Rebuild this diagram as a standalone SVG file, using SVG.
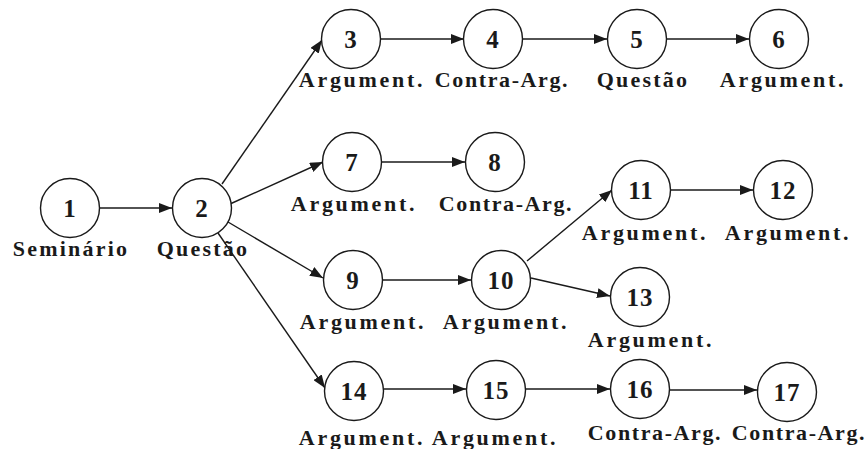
<svg xmlns="http://www.w3.org/2000/svg" width="868" height="449" viewBox="0 0 868 449">
<style>
.n circle{fill:#fff;stroke:#1a1a1a;stroke-width:1.4}
.num{font-family:"Liberation Serif",serif;font-weight:bold;font-size:25px;fill:#1a1a1a;text-anchor:middle;letter-spacing:1px}
.lbl{font-family:"Liberation Serif",serif;font-weight:bold;font-size:22px;fill:#1a1a1a;text-anchor:middle;letter-spacing:2.2px}
.lbl.a{letter-spacing:2.7px}
.lbl.c{letter-spacing:1.6px}
#edges line{stroke:#1a1a1a;stroke-width:1.4;marker-end:url(#ah)}
</style>
<defs>
<marker id="ah" markerWidth="13" markerHeight="10" refX="13" refY="5" orient="auto" markerUnits="userSpaceOnUse">
<path d="M0,0 L13,5 L0,10 Z" fill="#1a1a1a"/>
</marker>
</defs>
<rect width="868" height="449" fill="#fff"/>
<g id="edges">
<line x1="100" y1="208" x2="172" y2="208"/>
<line x1="222" y1="184" x2="322" y2="40"/>
<line x1="230" y1="204" x2="323" y2="162"/>
<line x1="228" y1="222" x2="323" y2="278"/>
<line x1="218" y1="233" x2="325" y2="388"/>
<line x1="381" y1="39" x2="464" y2="39"/>
<line x1="522" y1="39" x2="607" y2="39"/>
<line x1="667" y1="39" x2="749" y2="39"/>
<line x1="382" y1="162" x2="465" y2="162"/>
<line x1="383" y1="280" x2="471" y2="280"/>
<line x1="527" y1="261" x2="612" y2="190"/>
<line x1="531" y1="278" x2="610" y2="296"/>
<line x1="671" y1="190" x2="753" y2="190"/>
<line x1="384" y1="389" x2="466" y2="389"/>
<line x1="526" y1="389" x2="610" y2="389"/>
<line x1="670" y1="390" x2="757" y2="390"/>
</g>
<g id="n1" class="n"><circle cx="70" cy="208" r="29.5"/><text class="num" x="70" y="217">1</text><text class="lbl" x="71" y="256">Seminário</text></g>
<g id="n2" class="n"><circle cx="202" cy="208" r="29.5"/><text class="num" x="202" y="217">2</text><text class="lbl" x="203" y="256">Questão</text></g>
<g id="n3" class="n"><circle cx="351" cy="39" r="29.5"/><text class="num" x="351" y="48">3</text><text class="lbl a" x="362" y="87">Argument.</text></g>
<g id="n4" class="n"><circle cx="493" cy="39" r="29.5"/><text class="num" x="493" y="48">4</text><text class="lbl c" x="502" y="87">Contra-Arg.</text></g>
<g id="n5" class="n"><circle cx="637" cy="39" r="29.5"/><text class="num" x="637" y="48">5</text><text class="lbl" x="643" y="87">Questão</text></g>
<g id="n6" class="n"><circle cx="779" cy="39" r="29.5"/><text class="num" x="779" y="48">6</text><text class="lbl a" x="783" y="87">Argument.</text></g>
<g id="n7" class="n"><circle cx="352" cy="162" r="29.5"/><text class="num" x="352" y="171">7</text><text class="lbl a" x="354" y="211">Argument.</text></g>
<g id="n8" class="n"><circle cx="495" cy="162" r="29.5"/><text class="num" x="495" y="171">8</text><text class="lbl c" x="506" y="211">Contra-Arg.</text></g>
<g id="n9" class="n"><circle cx="353" cy="280" r="29.5"/><text class="num" x="353" y="289">9</text><text class="lbl a" x="363" y="329">Argument.</text></g>
<g id="n10" class="n"><circle cx="501" cy="280" r="29.5"/><text class="num" x="501" y="289">10</text><text class="lbl a" x="506" y="329">Argument.</text></g>
<g id="n11" class="n"><circle cx="641" cy="190" r="29.5"/><text class="num" x="641" y="199">11</text><text class="lbl a" x="645" y="240">Argument.</text></g>
<g id="n12" class="n"><circle cx="783" cy="190" r="29.5"/><text class="num" x="783" y="199">12</text><text class="lbl a" x="788" y="240">Argument.</text></g>
<g id="n13" class="n"><circle cx="640" cy="297" r="29.5"/><text class="num" x="640" y="306">13</text><text class="lbl a" x="651" y="347">Argument.</text></g>
<g id="n14" class="n"><circle cx="354" cy="391" r="29.5"/><text class="num" x="354" y="400">14</text><text class="lbl a" x="362" y="445">Argument.</text></g>
<g id="n15" class="n"><circle cx="496" cy="390" r="29.5"/><text class="num" x="496" y="399">15</text><text class="lbl a" x="495" y="445">Argument.</text></g>
<g id="n16" class="n"><circle cx="640" cy="389" r="29.5"/><text class="num" x="640" y="398">16</text><text class="lbl c" x="655" y="440">Contra-Arg.</text></g>
<g id="n17" class="n"><circle cx="787" cy="392" r="29.5"/><text class="num" x="787" y="401">17</text><text class="lbl c" x="799" y="440">Contra-Arg.</text></g>
</svg>
